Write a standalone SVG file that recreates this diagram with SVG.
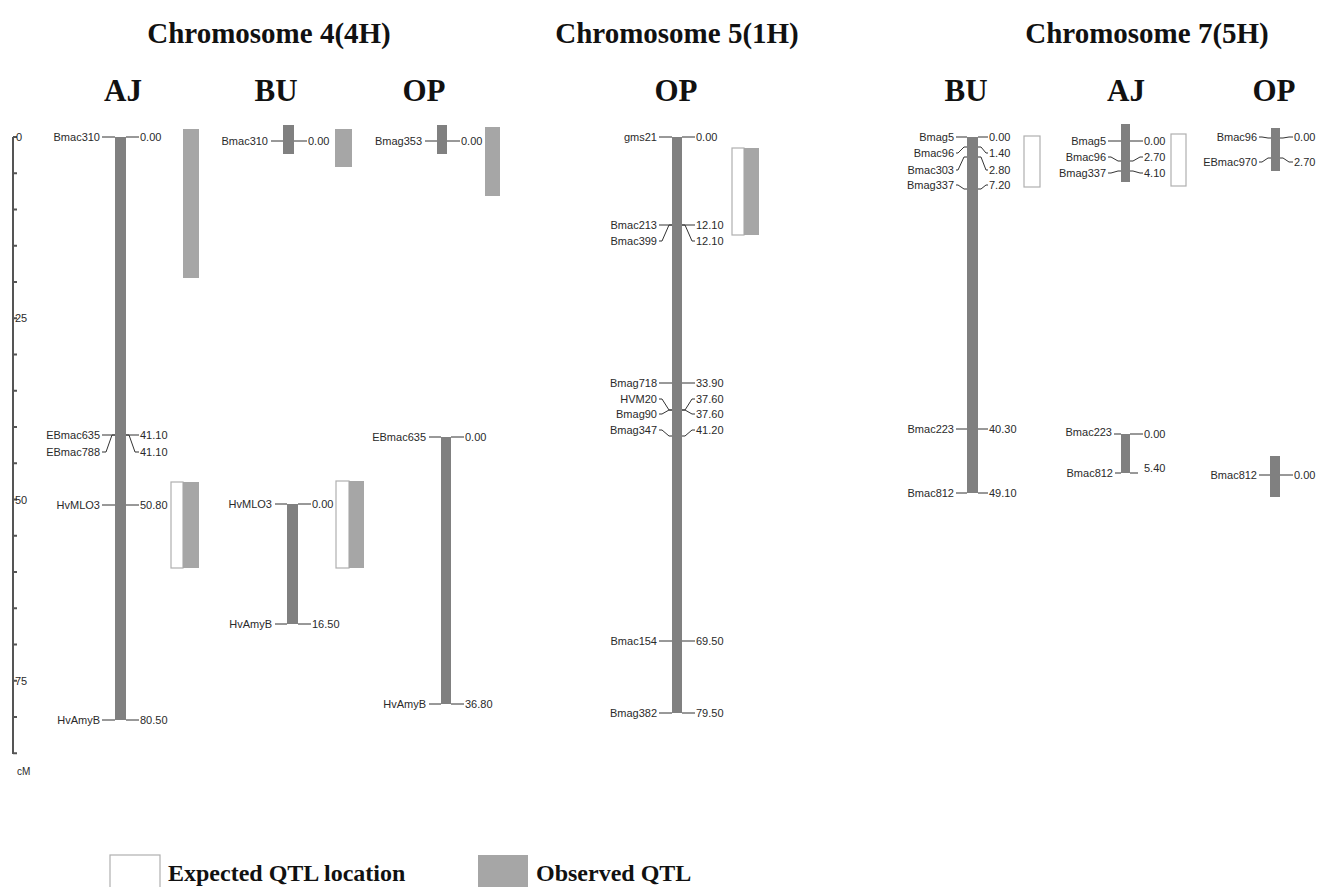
<svg xmlns="http://www.w3.org/2000/svg" width="1318" height="887" viewBox="0 0 1318 887">
<style>
.bar{fill:#808080}
.obs{fill:#a6a6a6}
.exp{fill:#fff;stroke:#b0b0b0;stroke-width:1.2}
.ln{fill:none;stroke:#333;stroke-width:1}
.lb{font-family:"Liberation Sans",Arial,sans-serif;font-size:11px;fill:#2a2a2a}
.lt{text-anchor:end}
.tt{font-family:"Liberation Serif","Times New Roman",serif;font-weight:bold;font-size:29px;fill:#111;text-anchor:middle}
.ct{font-family:"Liberation Serif","Times New Roman",serif;font-weight:bold;font-size:31px;fill:#111;text-anchor:middle}
.lg{font-family:"Liberation Serif","Times New Roman",serif;font-weight:bold;font-size:24px;fill:#111}
.ax{fill:none;stroke:#555;stroke-width:2}
</style>
<rect width="1318" height="887" fill="#fff"/>

<g id="titles">
<text class="tt" x="269" y="43">Chromosome 4(4H)</text>
<text class="tt" x="677" y="43">Chromosome 5(1H)</text>
<text class="tt" x="1147" y="43">Chromosome 7(5H)</text>
<text class="ct" x="123" y="101">AJ</text>
<text class="ct" x="276" y="101">BU</text>
<text class="ct" x="424" y="101">OP</text>
<text class="ct" x="676" y="101">OP</text>
<text class="ct" x="966" y="101">BU</text>
<text class="ct" x="1126" y="101">AJ</text>
<text class="ct" x="1274" y="101">OP</text>
</g>

<g id="axis">
<path class="ax" d="M13 137V754"/>
<path class="ax" d="M13 137h4M13 173.25h4M13 209.5h4M13 245.75h4M13 282h4M13 318.25h4M13 354.5h4M13 390.75h4M13 427h4M13 463.25h4M13 499.5h4M13 535.75h4M13 572h4M13 608.25h4M13 644.5h4M13 680.75h4M13 717h4M13 753.25h4"/>
<text class="lb" x="16" y="141">0</text>
<text class="lb" x="15" y="322">25</text>
<text class="lb" x="15" y="504">50</text>
<text class="lb" x="15" y="685">75</text>
<text class="lb" x="17" y="775" style="font-size:10px">cM</text>
</g>

<g id="qtl">
<rect class="obs" x="183" y="129" width="16" height="149"/>
<rect class="exp" x="171" y="482" width="12" height="86"/>
<rect class="obs" x="183" y="482" width="16" height="86"/>
<rect class="obs" x="335" y="129" width="17" height="38"/>
<rect class="exp" x="336" y="481" width="13" height="87"/>
<rect class="obs" x="349" y="481" width="15" height="87"/>
<rect class="obs" x="485" y="127" width="15" height="69"/>
<rect class="exp" x="732" y="148" width="12" height="87"/>
<rect class="obs" x="744" y="148" width="15" height="87"/>
<rect class="exp" x="1024" y="136" width="16" height="51"/>
<rect class="exp" x="1171" y="134" width="15" height="52"/>
</g>

<g id="chr4-AJ">
<rect class="bar" x="115" y="137" width="11" height="583"/>
<text class="lb lt" x="100" y="141">Bmac310</text><text class="lb" x="140" y="141">0.00</text>
<text class="lb lt" x="100" y="439">EBmac635</text><text class="lb" x="140" y="439">41.10</text>
<text class="lb lt" x="100" y="456">EBmac788</text><text class="lb" x="140" y="456">41.10</text>
<text class="lb lt" x="100" y="509">HvMLO3</text><text class="lb" x="140" y="509">50.80</text>
<text class="lb lt" x="100" y="724">HvAmyB</text><text class="lb" x="140" y="724">80.50</text>
</g>

<g id="chr4-BU-1">
<rect class="bar" x="283" y="125" width="11" height="29"/>
<text class="lb lt" x="268" y="145">Bmac310</text><text class="lb" x="308" y="145">0.00</text>
</g>

<g id="chr4-OP-1">
<rect class="bar" x="437" y="125" width="10" height="29"/>
<text class="lb lt" x="422" y="145">Bmag353</text><text class="lb" x="461" y="145">0.00</text>
</g>

<g id="chr4-BU-2">
<rect class="bar" x="287" y="504" width="11" height="120"/>
<text class="lb lt" x="272" y="508">HvMLO3</text><text class="lb" x="312" y="508">0.00</text>
<text class="lb lt" x="272" y="628">HvAmyB</text><text class="lb" x="312" y="628">16.50</text>
</g>

<g id="chr4-OP-2">
<rect class="bar" x="441" y="437" width="10" height="267"/>
<text class="lb lt" x="426" y="441">EBmac635</text><text class="lb" x="465" y="441">0.00</text>
<text class="lb lt" x="426" y="708">HvAmyB</text><text class="lb" x="465" y="708">36.80</text>
</g>

<g id="chr5-OP">
<rect class="bar" x="672" y="137" width="10" height="576"/>
<text class="lb lt" x="657" y="141">gms21</text><text class="lb" x="696" y="141">0.00</text>
<text class="lb lt" x="657" y="229">Bmac213</text><text class="lb" x="696" y="229">12.10</text>
<text class="lb lt" x="657" y="245">Bmac399</text><text class="lb" x="696" y="245">12.10</text>
<text class="lb lt" x="657" y="387">Bmag718</text><text class="lb" x="696" y="387">33.90</text>
<text class="lb lt" x="657" y="403">HVM20</text><text class="lb" x="696" y="403">37.60</text>
<text class="lb lt" x="657" y="418">Bmag90</text><text class="lb" x="696" y="418">37.60</text>
<text class="lb lt" x="657" y="434">Bmag347</text><text class="lb" x="696" y="434">41.20</text>
<text class="lb lt" x="657" y="645">Bmac154</text><text class="lb" x="696" y="645">69.50</text>
<text class="lb lt" x="657" y="717">Bmag382</text><text class="lb" x="696" y="717">79.50</text>
</g>

<g id="chr7-BU">
<rect class="bar" x="967" y="137" width="11" height="356"/>
<text class="lb lt" x="954" y="141">Bmag5</text><text class="lb" x="989" y="141">0.00</text>
<text class="lb lt" x="954" y="157">Bmac96</text><text class="lb" x="989" y="157">1.40</text>
<text class="lb lt" x="954" y="174">Bmac303</text><text class="lb" x="989" y="174">2.80</text>
<text class="lb lt" x="954" y="189">Bmag337</text><text class="lb" x="989" y="189">7.20</text>
<text class="lb lt" x="954" y="433">Bmac223</text><text class="lb" x="989" y="433">40.30</text>
<text class="lb lt" x="954" y="497">Bmac812</text><text class="lb" x="989" y="497">49.10</text>
</g>

<g id="chr7-AJ-1">
<rect class="bar" x="1121" y="124" width="9" height="58"/>
<text class="lb lt" x="1106" y="145">Bmag5</text><text class="lb" x="1144" y="145">0.00</text>
<text class="lb lt" x="1106" y="161">Bmac96</text><text class="lb" x="1144" y="161">2.70</text>
<text class="lb lt" x="1106" y="177">Bmag337</text><text class="lb" x="1144" y="177">4.10</text>
</g>

<g id="chr7-AJ-2">
<rect class="bar" x="1121" y="434" width="9" height="39"/>
<text class="lb lt" x="1112" y="436">Bmac223</text><text class="lb" x="1144" y="438">0.00</text>
<text class="lb lt" x="1113" y="477">Bmac812</text><text class="lb" x="1144" y="472">5.40</text>
</g>

<g id="chr7-OP-1">
<rect class="bar" x="1271" y="128" width="9" height="43"/>
<text class="lb lt" x="1257" y="141">Bmac96</text><text class="lb" x="1294" y="141">0.00</text>
<text class="lb lt" x="1257" y="166">EBmac970</text><text class="lb" x="1294" y="166">2.70</text>
</g>

<g id="chr7-OP-2">
<rect class="bar" x="1270" y="456" width="10" height="41"/>
<text class="lb lt" x="1257" y="479">Bmac812</text><text class="lb" x="1294" y="479">0.00</text>
</g>

<g id="connectors" class="ln">
<path d="M102 137H115M126 137H139"/>
<path d="M102 435H115M126 435H139"/>
<path d="M102 452H106L112 435H115M126 435H129L135 452H139"/>
<path d="M102 505H115M126 505H139"/>
<path d="M102 720H115M126 720H139"/>
<path d="M271 141H283M294 141H307"/>
<path d="M425 141H437M447 141H460"/>
<path d="M275 504H287M298 504H311"/>
<path d="M275 624H287M298 624H311"/>
<path d="M429 437H441M451 437H464"/>
<path d="M429 704H441M451 704H464"/>
<path d="M659 137H672M682 137H695"/>
<path d="M659 225H672M682 225H695"/>
<path d="M659 241H662L669 225H672M682 225H685L692 241H695"/>
<path d="M659 383H672M682 383H695"/>
<path d="M659 399H662L669 410H672M682 410H685L692 399H695"/>
<path d="M659 414H662L669 410H672M682 410H685L692 414H695"/>
<path d="M659 430H662L669 436H672M682 436H685L692 430H695"/>
<path d="M659 641H672M682 641H695"/>
<path d="M659 713H672M682 713H695"/>
<path d="M956 137H967M978 137H988"/>
<path d="M956 153H958L964 147H967M978 147H981L986 153H988"/>
<path d="M956 170H958L964 157H967M978 157H981L986 170H988"/>
<path d="M956 185H958L964 189H967M978 189H981L986 185H988"/>
<path d="M956 429H967M978 429H988"/>
<path d="M956 493H967M978 493H988"/>
<path d="M1108 141H1121M1130 141H1143"/>
<path d="M1108 157H1111L1118 161H1121M1130 161H1133L1140 157H1143"/>
<path d="M1108 173H1111L1118 171H1121M1130 171H1133L1140 173H1143"/>
<path d="M1114 434H1121M1130 434H1143"/>
<path d="M1115 473H1121M1130 473H1138"/>
<path d="M1259 137H1262L1268 138H1271M1280 138H1283L1289 137H1293"/>
<path d="M1259 162H1262L1268 158H1271M1280 158H1283L1289 162H1293"/>
<path d="M1259 475H1270M1280 475H1293"/>
</g>

<g id="legend">
<rect class="exp" x="110" y="855" width="50" height="40"/>
<text class="lg" x="168" y="881">Expected QTL location</text>
<rect class="obs" x="478" y="855" width="50" height="40"/>
<text class="lg" x="536" y="881">Observed QTL</text>
</g>
</svg>
